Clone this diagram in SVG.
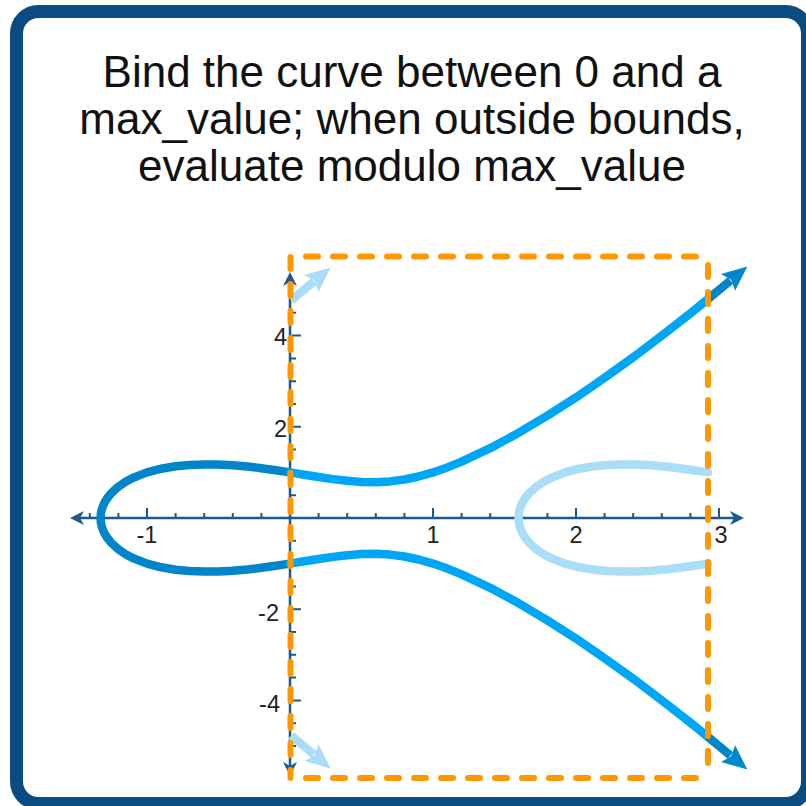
<svg xmlns="http://www.w3.org/2000/svg" width="806" height="806" viewBox="0 0 806 806">
<style>
.title{font-family:"Liberation Sans",Arial,Helvetica,sans-serif;font-size:44px;fill:#111;text-anchor:middle}
.lbl{font-family:"Liberation Sans",Arial,Helvetica,sans-serif;font-size:23.5px;fill:#222}
.axis{stroke:#1D5A8C;stroke-width:2.5;fill:none}
.tick{stroke:#1D5A8C;stroke-width:2;fill:none}
.ahead{fill:#1D5A8C}
.crv{fill:none;stroke-width:8.5;stroke-linejoin:round;stroke-linecap:round}
.dark{stroke:#0085CA}
.bright{stroke:#00A6F6}
.light{stroke:#A9DDF8}
.bound{fill:none;stroke:#FF9800;stroke-width:6;stroke-linecap:round;stroke-dasharray:12 15}
</style>
<defs>
<marker id="mDark" markerUnits="userSpaceOnUse" viewBox="-4 -12 28 24" markerWidth="28" markerHeight="24" refX="0" refY="0" orient="auto" overflow="visible">
<path d="M-3,-11 L22,0 L-3,11 L1,0 Z" fill="#0088CC"/>
</marker>
<marker id="mLight" markerUnits="userSpaceOnUse" viewBox="-4 -12 28 24" markerWidth="28" markerHeight="24" refX="0" refY="0" orient="auto" overflow="visible">
<path d="M-3,-11 L22,0 L-3,11 L1,0 Z" fill="#A9DDF8"/>
</marker>
</defs>
<rect x="0" y="0" width="806" height="806" fill="#fff"/>
<g id="frame">
<rect x="16.5" y="11.5" width="791" height="792" rx="22" fill="#fff" stroke="#0A4C82" stroke-width="13"/>
</g>
<g id="title">
<text class="title" x="412" y="87">Bind the curve between 0 and a</text>
<text class="title" x="412" y="134">max_value; when outside bounds,</text>
<text class="title" x="412" y="181">evaluate modulo max_value</text>
</g>
<g id="axes">
<path class="axis" d="M80,518 H734 M290,282 V766"/>
<path class="ahead" d="M70,518 L84,511 L80,518 L84,525 Z"/>
<path class="ahead" d="M744,518 L730,511 L734,518 L730,525 Z"/>
<path class="ahead" d="M290,272 L297,286 L290,282 L283,286 Z"/>
<path class="ahead" d="M290,776 L283,762 L290,766 L297,762 Z"/>
<path class="tick" d="M89.8,518V513 M118.4,518V513 M147,518V508 M175.6,518V513 M204.2,518V513 M232.8,518V513 M261.4,518V513 M318.6,518V513 M347.2,518V513 M375.8,518V513 M404.4,518V513 M433,518V508 M461.6,518V513 M490.2,518V513 M518.8,518V513 M547.4,518V513 M576,518V508 M604.6,518V513 M633.2,518V513 M661.8,518V513 M690.4,518V513 M719,518V508"/>
<path class="tick" d="M290,312.8H296 M290,335.6H301 M290,358.4H296 M290,381.2H296 M290,404H296 M290,426.8H301 M290,449.6H296 M290,472.4H296 M290,495.2H296 M290,540.8H296 M290,563.6H296 M290,586.4H296 M290,609.2H301 M290,632H296 M290,654.8H296 M290,677.6H296 M290,700.4H301 M290,723.2H296 M290,746H296"/>
<text class="lbl" x="147" y="543" text-anchor="middle">-1</text>
<text class="lbl" x="433" y="543" text-anchor="middle">1</text>
<text class="lbl" x="576" y="543" text-anchor="middle">2</text>
<text class="lbl" x="721" y="543" text-anchor="middle">3</text>
<text class="lbl" x="287" y="345" text-anchor="end">4</text>
<text class="lbl" x="287" y="437" text-anchor="end">2</text>
<text class="lbl" x="279" y="621" text-anchor="end">-2</text>
<text class="lbl" x="280" y="712" text-anchor="end">-4</text>
</g>
<g id="curves">
<path id="loopLeft" class="crv dark" d="M290,472.4 L275.7,470.2 L261.4,468.2 L247.1,466.5 L232.8,465.3 L218.5,464.5 L204.2,464.4 L189.9,464.9 L175.6,466.2 L161.3,468.7 L147,472.4 L132.7,478 L125.6,481.8 L118.4,486.7 L111.3,493.1 L107,498.5 L104.1,503.4 L101.9,508.9 L100.9,513.4 L100.6,518 L100.9,522.6 L101.9,527.1 L104.1,532.6 L107,537.5 L111.3,542.9 L118.4,549.3 L125.6,554.2 L132.7,558 L147,563.6 L161.3,567.3 L175.6,569.8 L189.9,571.1 L204.2,571.6 L218.5,571.5 L232.8,570.7 L247.1,569.5 L261.4,567.8 L275.7,565.8 L290,563.6"/>
<path id="loopWrapped" class="crv light" transform="translate(418 0)" d="M290,472.4 L275.7,470.2 L261.4,468.2 L247.1,466.5 L232.8,465.3 L218.5,464.5 L204.2,464.4 L189.9,464.9 L175.6,466.2 L161.3,468.7 L147,472.4 L132.7,478 L125.6,481.8 L118.4,486.7 L111.3,493.1 L107,498.5 L104.1,503.4 L101.9,508.9 L100.9,513.4 L100.6,518 L100.9,522.6 L101.9,527.1 L104.1,532.6 L107,537.5 L111.3,542.9 L118.4,549.3 L125.6,554.2 L132.7,558 L147,563.6 L161.3,567.3 L175.6,569.8 L189.9,571.1 L204.2,571.6 L218.5,571.5 L232.8,570.7 L247.1,569.5 L261.4,567.8 L275.7,565.8 L290,563.6"/>
<path id="branchUpper" class="crv bright" d="M290,472.4 L304.3,474.7 L318.6,477 L332.9,479.1 L347.2,480.8 L361.5,481.9 L375.8,482.2 L390.1,481.4 L404.4,479.5 L418.7,476.5 L433,472.4 L447.3,467.4 L461.6,461.6 L490.2,448.2 L518.8,432.7 L547.4,415.7 L576,397.4 L604.6,377.8 L633.2,357.3 L661.8,335.7 L690.4,313.3 L707.6,299.4"/>
<path id="branchLower" class="crv bright" d="M290,563.6 L304.3,561.3 L318.6,559 L332.9,556.9 L347.2,555.2 L361.5,554.1 L375.8,553.8 L390.1,554.6 L404.4,556.5 L418.7,559.5 L433,563.6 L447.3,568.6 L461.6,574.4 L490.2,587.8 L518.8,603.3 L547.4,620.3 L576,638.6 L604.6,658.2 L633.2,678.7 L661.8,700.3 L690.4,722.7 L707.6,736.6"/>
<path id="tipUpper" class="crv dark" style="stroke-linecap:butt" d="M707.6,299.4 L719,290 L730.4,280.5" marker-end="url(#mDark)"/>
<path id="tipLower" class="crv dark" style="stroke-linecap:butt" d="M707.6,736.6 L719,746 L730.4,755.5" marker-end="url(#mDark)"/>
<path id="wrapUpper" class="crv light" style="stroke-linecap:butt" d="M291,300.4 L302.4,291 L313.8,281.5" marker-end="url(#mLight)"/>
<path id="wrapLower" class="crv light" style="stroke-linecap:butt" d="M291,735.6 L302.4,745 L313.8,754.5" marker-end="url(#mLight)"/>
</g>
<g id="bounds">
<path class="bound" d="M290.5,257 V778"/>
<path class="bound" d="M306,256.5 H708"/>
<path class="bound" d="M708,265 V778"/>
<path class="bound" d="M306,778 H708"/>
</g>
</svg>
